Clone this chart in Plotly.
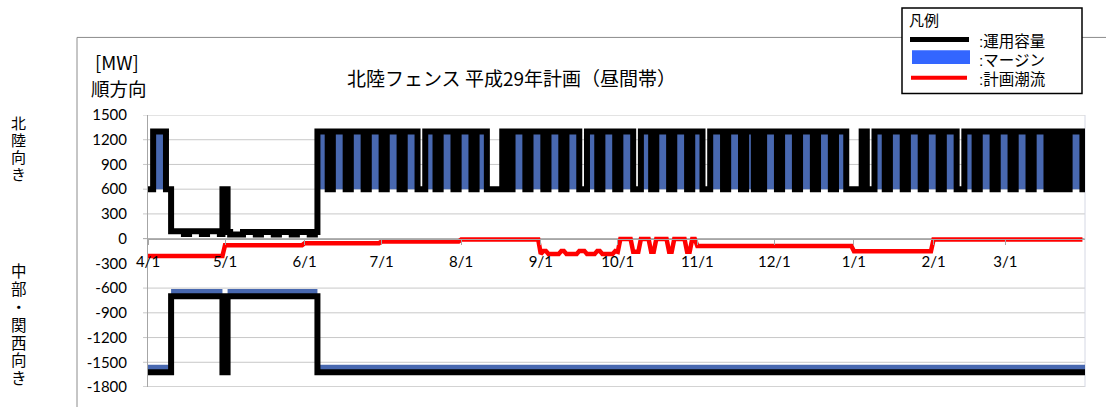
import pandas as pd
import plotly.graph_objects as go

# ---------------- data ----------------
days = pd.date_range("2017-04-01", "2018-03-31", freq="D")

month_ticks = ["2017-04-01", "2017-05-01", "2017-06-01", "2017-07-01", "2017-08-01", "2017-09-01",
               "2017-10-01", "2017-11-01", "2017-12-01", "2018-01-01", "2018-02-01", "2018-03-01"]
month_labels = ["4/1", "5/1", "6/1", "7/1", "8/1", "9/1", "10/1", "11/1", "12/1", "1/1", "2/1", "3/1"]
y_ticks = [1500, 1200, 900, 600, 300, 0, -300, -600, -900, -1200, -1500, -1800]

# days treated as holidays (non-working days) in the plan
holidays = ["2017-05-03", "2017-05-04", "2017-05-05", "2017-07-17",
            "2017-08-11", "2017-08-14", "2017-08-15", "2017-08-16",
            "2017-09-18", "2017-10-09", "2017-11-03", "2017-11-23",
            "2017-12-29", "2018-01-01", "2018-01-02", "2018-01-03",
            "2018-01-08", "2018-02-12", "2018-03-21"]

# 運用容量 北陸向き [MW]
cap_n_weekday = 1300
cap_n_offday = 600
cap_n_reduced = [("2017-04-10", "2017-04-29", 90, 55),
                 ("2017-05-02", "2017-06-05", 80, 50)]   # (from, to, weekday, offday)
cap_n_fixed600 = ["2017-04-30", "2017-05-01"]
margin_n_base = 600

# 運用容量 中部・関西向き [MW]
cap_s_normal = -1620
cap_s_reduced = [("2017-04-10", "2017-04-29", -700),
                 ("2017-05-02", "2017-06-05", -700)]
margin_s = 90

# 計画潮流 [MW] per month (weekday / non-working day)
flow_months = ["2017-04", "2017-05", "2017-06", "2017-07", "2017-08", "2017-09",
               "2017-10", "2017-11", "2017-12", "2018-01", "2018-02", "2018-03"]
flow_weekday = [-210, -80, -55, -35, -10, -185, -5, -90, -90, -152, -10, -10]
flow_offday = [-210, -80, -55, -35, -10, -150, -160, -90, -90, -152, -10, -10]

# ---------------- series construction ----------------
hol = set(pd.to_datetime(holidays))
fixed600 = set(pd.to_datetime(cap_n_fixed600))


def offday(d):
    return d.weekday() >= 5 or d in hol


cap_n = []
for d in days:
    v = cap_n_offday if offday(d) else cap_n_weekday
    for s, e, wd, od in cap_n_reduced:
        if pd.Timestamp(s) <= d <= pd.Timestamp(e):
            v = od if offday(d) else wd
    if d in fixed600:
        v = 600
    cap_n.append(v)

cap_s = []
for d in days:
    v = cap_s_normal
    for s, e, val in cap_s_reduced:
        if pd.Timestamp(s) <= d <= pd.Timestamp(e):
            v = val
    cap_s.append(v)

flow = []
for d in days:
    i = flow_months.index(d.strftime("%Y-%m"))
    flow.append(flow_offday[i] if offday(d) else flow_weekday[i])

# step series: each day's value holds until the next day
xs = list(days) + [pd.Timestamp("2018-04-01")]
cap_n_x = cap_n + [cap_n[-1]]
cap_s_x = cap_s + [cap_s[-1]]
margin_n_top = [max(v, margin_n_base) for v in cap_n_x]
margin_s_top = [v + margin_s for v in cap_s_x]

# ---------------- figure ----------------
W, H = 1106, 407
L, R, T, B = 148, 1085, 115, 392
BLUE = "#4868B0"
LW = 6


def px(x):
    return (x - L) / (R - L)


def py(y):
    return (B - y) / (B - T)


fig = go.Figure()
fig.add_trace(go.Scatter(x=xs, y=[margin_n_base] * len(xs), mode="lines", line_shape="hv",
                         line=dict(width=0, color=BLUE), hoverinfo="skip"))
fig.add_trace(go.Scatter(x=xs, y=margin_n_top, mode="lines", fill="tonexty", line_shape="hv",
                         fillcolor=BLUE, line=dict(width=0, color=BLUE), name="マージン"))
fig.add_trace(go.Scatter(x=xs, y=cap_s_x, mode="lines", line_shape="hv",
                         line=dict(width=0, color=BLUE), hoverinfo="skip"))
fig.add_trace(go.Scatter(x=xs, y=margin_s_top, mode="lines", fill="tonexty", line_shape="hv",
                         fillcolor=BLUE, line=dict(width=0, color=BLUE), name="マージン"))
fig.add_trace(go.Scatter(x=days, y=flow, mode="lines",
                         line=dict(width=4.5, color="#FF0000"), name="計画潮流"))
fig.add_trace(go.Scatter(x=xs, y=cap_n_x, mode="lines", line_shape="hv",
                         line=dict(width=LW, color="#000000"), name="運用容量"))
fig.add_trace(go.Scatter(x=xs, y=cap_s_x, mode="lines", line_shape="hv",
                         line=dict(width=LW, color="#000000"), name="運用容量"))

shapes = []
# outer chart border
shapes.append(dict(type="line", xref="paper", yref="paper", x0=px(77), x1=px(77), y0=py(36), y1=py(420),
                   line=dict(color="#8C8C8C", width=1), layer="below"))
shapes.append(dict(type="line", xref="paper", yref="paper", x0=px(77), x1=px(1120), y0=py(36), y1=py(36),
                   line=dict(color="#8C8C8C", width=1), layer="below"))
# gridlines (none at -300)
for yv in y_ticks:
    if yv == -300:
        continue
    shapes.append(dict(type="line", xref="paper", yref="y", x0=px(143), x1=1, y0=yv, y1=yv,
                       line=dict(color="#A6A6A6" if yv in (0, -1800) else "#C8C8C8", width=1),
                       layer="below"))
# right border
shapes.append(dict(type="line", xref="paper", yref="paper", x0=1, x1=1, y0=0, y1=1,
                   line=dict(color="#D5D8E4", width=1), layer="below"))
# legend box
shapes.append(dict(type="rect", xref="paper", yref="paper", x0=px(902), x1=px(1082), y0=py(6), y1=py(93),
                   line=dict(color="#000000", width=1.5), fillcolor="white", layer="above"))
shapes.append(dict(type="line", xref="paper", yref="paper", x0=px(910), x1=px(969), y0=py(38), y1=py(38),
                   line=dict(color="#000000", width=5), layer="above"))
shapes.append(dict(type="rect", xref="paper", yref="paper", x0=px(912), x1=px(970), y0=py(49), y1=py(63),
                   line=dict(width=0), fillcolor="#3366FF", layer="above"))
shapes.append(dict(type="line", xref="paper", yref="paper", x0=px(911), x1=px(967), y0=py(77), y1=py(77),
                   line=dict(color="#FF0000", width=4), layer="above"))

JP = "Noto Sans CJK JP"
JPL = "Liberation Sans, Noto Sans CJK JP"
ann = []


def text(x, y, s, size, xanchor="center", family=JP):
    ann.append(dict(x=px(x), y=py(y), xref="paper", yref="paper", text=s, showarrow=False,
                    xanchor=xanchor, yanchor="middle", font=dict(family=family, size=size, color="#000000")))


text(511, 77, "北陸フェンス 平成29年計画（昼間帯）", 19)
text(117, 61, "[MW]", 18.5)
text(119, 88, "順方向", 18.5)
for ch, yy in zip("北陸向き", [124, 141.2, 158.4, 175.6]):
    text(18.5, yy, ch, 15, family=JPL)
for ch, yy in zip("中部・関西向き", [274, 292.3, 310.6, 328.9, 347.2, 365.5, 383.8]):
    text(18.5, yy, ch, 15.5, family=JPL)
text(907, 18.5, "凡例", 15, "left", family=JPL)
text(977, 40, ":運用容量", 15.5, "left", family=JPL)
text(977, 60, ":マージン", 15.5, "left", family=JPL)
text(977, 79, ":計画潮流", 15.5, "left", family=JPL)

fig.update_layout(
    width=W, height=H, autosize=False,
    margin=dict(l=L, r=W - R, t=T, b=H - B, pad=0),
    paper_bgcolor="white", plot_bgcolor="white",
    showlegend=False,
    shapes=shapes, annotations=ann,
    xaxis=dict(type="date", range=["2017-04-01", "2018-04-01"],
               tickvals=month_ticks, ticktext=month_labels,
               anchor="free", position=(0 - (-1800)) / 3300.0,
               showgrid=False, zeroline=False, showline=True, linecolor="#A6A6A6", linewidth=1,
               ticks="outside", ticklen=5, tickcolor="#A6A6A6",
               ticklabelstandoff=4,
               tickfont=dict(family="Lato", size=15, color="#000000")),
    yaxis=dict(range=[-1800, 1500], tickvals=y_ticks, ticktext=[str(v) for v in y_ticks],
               showgrid=False, zeroline=False, showline=True, linecolor="#A6A6A6", linewidth=1,
               ticks="", ticklabelstandoff=17,
               tickfont=dict(family="Lato", size=15, color="#000000")),
)

fig.write_html("out.html", config={"displayModeBar": False},
               post_script="document.body.style.margin='0';document.body.style.overflow='hidden';")
